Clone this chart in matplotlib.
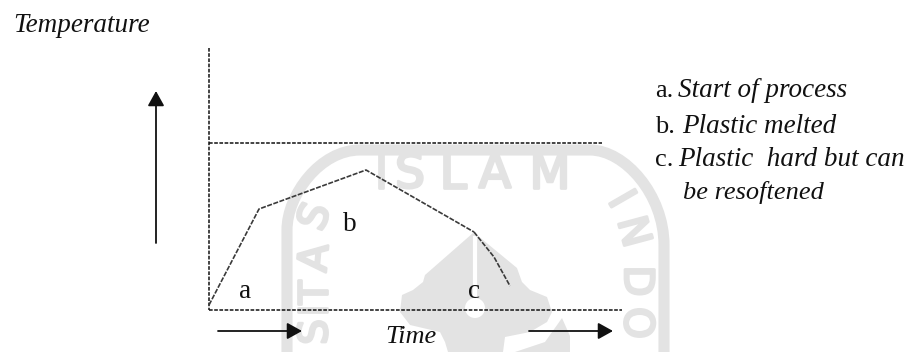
import matplotlib
matplotlib.use('Agg')
import matplotlib.pyplot as plt
import matplotlib.patheffects as pe
from matplotlib.patches import Polygon, Circle, PathPatch
from matplotlib.path import Path

W, H = 910, 352

curve_x = [209, 259, 366, 474]
curve_y = [305, 209, 170, 232]
tail_x = [474, 494, 510]
tail_y = [232, 257, 286]

legend_keys = ['a.', 'b.', 'c.']
legend_lines = ['Start of process', 'Plastic melted', 'Plastic  hard but can']
legend_x = [678, 682, 678]
legend_y = [97, 133, 166]

point_labels = ['a', 'b', 'c']
point_x = [245, 350, 474]
point_y = [298, 231, 298]

wm_top = ['I', 'S', 'L', 'A', 'M']
wm_top_x = [381, 410, 453, 495, 550]
wm_top_y = [175, 175, 175, 175, 176]
wm_left = ['S', 'A', 'T', 'I', 'S']
wm_left_y = [217, 258, 292, 310, 332]
wm_left_rot = [70, 85, 90, 90, 90]
wm_right = ['I', 'N', 'D', 'O']
wm_right_x = [620, 632, 636, 636]
wm_right_y = [200, 232, 281, 323]
wm_right_rot = [-60, -75, -90, -90]

emblem = [(473, 233), (425, 275), (423, 282), (413, 290), (402, 295), (400, 312), (410, 325),
          (440, 332), (445, 342), (448, 352), (503, 352), (505, 337), (530, 332), (547, 322),
          (552, 312), (547, 297), (530, 290), (522, 282), (517, 268), (477, 235)]
emblem_tail = [(562, 318), (570, 336), (570, 352), (515, 352), (545, 342)]

ring_pts = [(287, 352), (287, 230), (287, 230), (287, 195), (320, 150), (360, 150),
            (590, 150), (590, 150), (625, 150), (664, 195), (664, 245), (664, 352)]
ring_codes = [Path.MOVETO, Path.LINETO, Path.LINETO, Path.CURVE4, Path.CURVE4, Path.CURVE4,
              Path.LINETO, Path.LINETO, Path.CURVE4, Path.CURVE4, Path.CURVE4, Path.LINETO]

INK = '#111111'
WM = '#e3e3e3'
SERIF = 'Liberation Serif'

fig = plt.figure(figsize=(W / 100, H / 100), dpi=100)
ax = fig.add_axes([0, 0, 1, 1])
ax.set_xlim(0, W)
ax.set_ylim(H, 0)
ax.axis('off')

# watermark goes underneath everything else
heavy = [pe.withStroke(linewidth=2, foreground=WM)]
wm_font = dict(color=WM, family='DejaVu Sans', ha='center', va='center', zorder=1, path_effects=heavy)
ax.add_patch(PathPatch(Path(ring_pts, ring_codes), fc='none', ec=WM, lw=8, zorder=1))
for ch, x, y in zip(wm_top, wm_top_x, wm_top_y):
    ax.text(x, y, ch, fontsize=34, **wm_font)
for ch, y, r in zip(wm_left, wm_left_y, wm_left_rot):
    ax.text(316, y, ch, fontsize=29, rotation=r, **wm_font)
for ch, x, y, r in zip(wm_right, wm_right_x, wm_right_y, wm_right_rot):
    ax.text(x, y, ch, fontsize=29, rotation=r, **wm_font)
ax.add_patch(Polygon(emblem, fc=WM, ec='none', zorder=1))
ax.add_patch(Polygon(emblem_tail, fc=WM, ec='none', zorder=1))
ax.plot([475, 475], [238, 300], color='white', lw=3, zorder=2)
ax.add_patch(Circle((475, 308), 10, fc='white', ec='none', zorder=2))

# dashed frame lines
dash = dict(color=INK, lw=1.1, ls=(0, (2.4, 1.0)), zorder=3)
ax.plot([209, 209], [48, 310], **dash)
ax.plot([209, 602], [143, 143], **dash)
ax.plot([209, 622], [310, 310], **dash)

ax.plot(curve_x, curve_y, color='#3a3a3a', lw=1.2, ls=(0, (3, 0.9)), zorder=3)
ax.plot(tail_x, tail_y, color='#3a3a3a', lw=1.2, ls=(0, (3, 0.9)), zorder=3)

# arrows
arrow = dict(arrowstyle='-|>,head_length=9,head_width=5', color=INK, lw=1.3, mutation_scale=1,
             shrinkA=0, shrinkB=0)
ax.annotate('', xy=(156, 91), xytext=(156, 243), arrowprops=arrow, zorder=4)
ax.annotate('', xy=(302, 331), xytext=(218, 331), arrowprops=arrow, zorder=4)
ax.annotate('', xy=(613, 331), xytext=(529, 331), arrowprops=arrow, zorder=4)

# text
ax.text(13, 32, 'Temperature', fontsize=19.5, family=SERIF, style='italic', color=INK, va='baseline')
ax.text(385, 343, 'Time', fontsize=19, family=SERIF, style='italic', color=INK, va='baseline')
for ch, x, y in zip(point_labels, point_x, point_y):
    ax.text(x, y, ch, fontsize=19.5, family=SERIF, color=INK, ha='center', va='baseline')
for key, line, x, y in zip(legend_keys, legend_lines, legend_x, legend_y):
    ax.text(655, y, key, fontsize=19, family=SERIF, color=INK, va='baseline')
    ax.text(x, y, line, fontsize=19.5, family=SERIF, style='italic', color=INK, va='baseline')
ax.text(683, 199, 'be resoftened', fontsize=19, family=SERIF, style='italic', color=INK, va='baseline')

fig.savefig('out.png', dpi=100)
